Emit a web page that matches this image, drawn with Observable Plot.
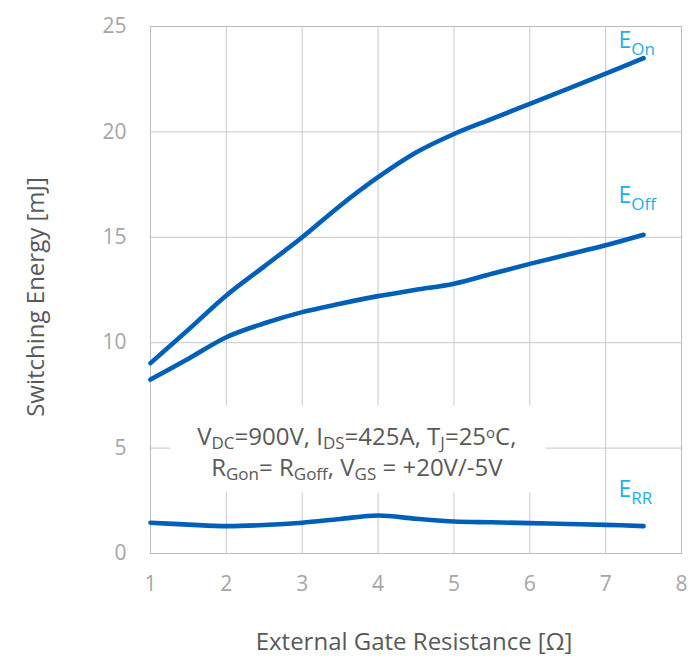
<!DOCTYPE html>
<html>
<head>
<meta charset="utf-8">
<script src="https://cdn.jsdelivr.net/npm/d3@7"></script>
<script src="https://cdn.jsdelivr.net/npm/@observablehq/plot@0.6"></script>
<style>
  html, body { margin: 0; padding: 0; background: #fff; }
  #chart svg { display: block; }
</style>
</head>
<body>
<div id="chart"></div>
<script>
// ---- data ----
const gateResistance = [1, 1.5, 2, 2.5, 3, 3.5, 4, 4.5, 5, 5.5, 6, 6.5, 7, 7.5];
const eOn  = [9.03, 10.62, 12.24, 13.62, 15.0, 16.5, 17.85, 19.02, 19.9, 20.62, 21.33, 22.04, 22.76, 23.5];
const eOff = [8.25, 9.24, 10.26, 10.92, 11.45, 11.85, 12.21, 12.51, 12.8, 13.27, 13.74, 14.18, 14.62, 15.12];
const eRR  = [1.46, 1.37, 1.30, 1.35, 1.46, 1.64, 1.80, 1.65, 1.52, 1.48, 1.44, 1.40, 1.36, 1.30];

const xTicks = [1, 2, 3, 4, 5, 6, 7, 8];
const yTicks = [0, 5, 10, 15, 20, 25];

const seriesLabels = ["E_{On}", "E_{Off}", "E_{RR}"];
const seriesLabelX = [7.17, 7.17, 7.17];
const seriesLabelY = [24.0, 16.62, 2.66];

const noteLines = ["V_{DC}=900V, I_{DS}=425A, T_{J}=25^{o}C,", "R_{Gon}= R_{Goff}, V_{GS} = +20V/-5V"];
const noteX = [3.72, 3.72];
const noteY = [5.17, 3.70];

const xTitle = "External Gate Resistance [Ω]";
const yTitle = "Switching Energy [mJ]";

// ---- tables for the marks ----
const curves = [
  ...gateResistance.map((x, i) => ({series: "EOn", x, y: eOn[i]})),
  ...gateResistance.map((x, i) => ({series: "EOff", x, y: eOff[i]})),
  ...gateResistance.map((x, i) => ({series: "ERR", x, y: eRR[i]}))
];
const labelData = seriesLabels.map((t, i) => ({t, x: seriesLabelX[i], y: seriesLabelY[i]}));
const noteData = noteLines.map((t, i) => ({t, x: noteX[i], y: noteY[i]}));

const FONT = "'Open Sans', 'Noto Sans', sans-serif";

const chart = Plot.plot({
  width: 688,
  height: 656,
  marginLeft: 150,
  marginRight: 7,
  marginTop: 26,
  marginBottom: 103,
  style: {fontFamily: FONT, color: "#a6a6a6", background: "#fff", overflow: "visible"},
  x: {domain: [1, 8]},
  y: {domain: [0, 25]},
  marks: [
    Plot.gridX(xTicks, {stroke: "#c9c9c9", strokeOpacity: 1}),
    Plot.gridY(yTicks, {stroke: "#c9c9c9", strokeOpacity: 1}),
    Plot.frame({stroke: "#bdbdbd"}),
    Plot.axisX(xTicks, {tickSize: 0, tickPadding: 23, fontSize: 21, label: null, tickFormat: d => String(d)}),
    Plot.axisY(yTicks, {tickSize: 0, tickPadding: 24, fontSize: 21, label: null, tickFormat: d => String(d)}),
    Plot.text([xTitle], {text: d => d, frameAnchor: "bottom", dx: -2, dy: 96, textAnchor: "middle", lineAnchor: "bottom", fill: "#595959", fontSize: 24}),
    Plot.text([yTitle], {text: d => d, frameAnchor: "left", rotate: -90, dx: -114, dy: 7, textAnchor: "middle", lineAnchor: "middle", fill: "#595959", fontSize: 24}),
    Plot.text(noteData, {x: "x", y: "y", text: "t", textAnchor: "middle", lineAnchor: "bottom", fill: "#595959", fontSize: 24, className: "rich-note"}),
    Plot.line(curves, {x: "x", y: "y", z: "series", stroke: "#0060b9", strokeWidth: 4.6, curve: "catmull-rom", strokeLinecap: "round", strokeLinejoin: "round"}),
    Plot.text(labelData, {x: "x", y: "y", text: "t", textAnchor: "start", lineAnchor: "bottom", fill: "#1ab2e6", fontSize: 23, className: "rich-label"})
  ]
});

document.getElementById("chart").appendChild(chart);

// ---- rich text: _{sub} and ^{sup} ----
function richText(el, subSize, subShift, supSize, supShift) {
  const s = el.textContent;
  el.textContent = "";
  const re = /([_^])\{([^}]*)\}/g;
  let last = 0, m, offset = 0;
  const add = (txt, size, target) => {
    const ts = document.createElementNS("http://www.w3.org/2000/svg", "tspan");
    const dy = target - offset;
    if (dy !== 0) ts.setAttribute("dy", dy);
    offset = target;
    if (size) ts.setAttribute("font-size", size);
    ts.textContent = txt;
    el.appendChild(ts);
  };
  while ((m = re.exec(s))) {
    if (m.index > last) add(s.slice(last, m.index), null, 0);
    if (m[1] === "_") add(m[2], subSize, subShift);
    else add(m[2], supSize, -supShift);
    last = re.lastIndex;
  }
  if (last < s.length) add(s.slice(last), null, 0);
}

const svg = d3.select(chart.tagName.toLowerCase() === "svg" ? chart : chart.querySelector("svg"));
svg.selectAll("g.rich-note text").each(function () { richText(this, 17, 4, 15, 7); });
svg.selectAll("g.rich-label text").each(function () { richText(this, 17, 7, 14, 8); });

// white panel behind the test-condition note
svg.selectAll("g.rich-note").each(function () {
  const bb = this.getBBox();
  d3.select(this).insert("rect", ":first-child")
    .attr("x", bb.x - 27).attr("y", bb.y - 13)
    .attr("width", bb.width + 56).attr("height", bb.height + 21)
    .attr("fill", "#ffffff").attr("stroke", "none");
});
</script>
</body>
</html>
